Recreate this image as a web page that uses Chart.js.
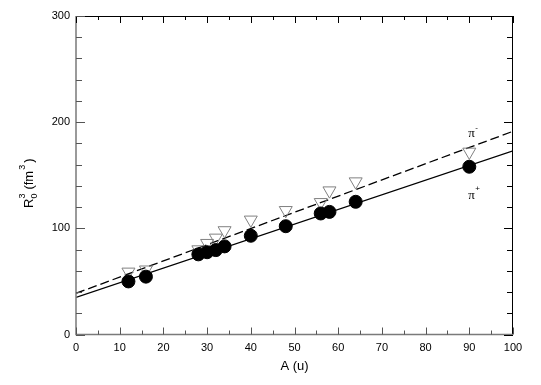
<!DOCTYPE html>
<html>
<head>
<meta charset="utf-8">
<script src="https://cdn.jsdelivr.net/npm/chart.js@4.4.1/dist/chart.umd.min.js"></script>
<style>
  html, body { margin: 0; padding: 0; background: #fff; }
  #wrap { width: 541px; height: 385px; }
</style>
</head>
<body>
<div id="wrap"><canvas id="chart"></canvas></div>
<script>
// --- data ---
const massA   = [12, 16, 28, 30, 32, 34, 40, 48, 56, 58, 64, 90];
const piPlus  = [50, 54.5, 75.5, 77.5, 79.5, 83, 93, 102, 114, 115.5, 125, 158];
const piMinus = [59, 61, 80, 86, 91, 98, 108, 117, 124.5, 135.5, 144, 172];

// fitted lines, endpoints at A = 0 and A = 100
const fitA      = [0, 100];
const fitPlus   = [35, 173];
const fitMinus  = [38.8, 191.4];

const xTicksMajor = [0, 10, 20, 30, 40, 50, 60, 70, 80, 90, 100];
const yTicksMajor = [0, 100, 200, 300];

const toPts = (xs, ys) => xs.map((x, i) => ({ x: x, y: ys[i] }));

// inward ticks on all four sides + frame
const frame = {
    id: 'frame',
    afterDatasetsDraw(chart) {
        const { ctx, chartArea: a, scales: { x, y } } = chart;
        ctx.save();
        ctx.lineWidth = 1;

        // top & right in black, left & bottom in grey
        ctx.strokeStyle = '#000';
        ctx.beginPath();
        ctx.moveTo(a.left, a.top + 0.5); ctx.lineTo(a.right, a.top + 0.5);
        ctx.moveTo(a.right - 0.5, a.top); ctx.lineTo(a.right - 0.5, a.bottom);
        ctx.stroke();
        ctx.strokeStyle = '#7a7a7a';
        ctx.lineWidth = 1.5;
        ctx.beginPath();
        ctx.moveTo(a.left, a.top); ctx.lineTo(a.left, a.bottom);
        ctx.lineTo(a.right, a.bottom);
        ctx.stroke();

        ctx.lineWidth = 1;
        // x ticks every 5, majors every 10
        for (let v = 0; v <= 100; v += 5) {
            const px = Math.round(x.getPixelForValue(v)) + 0.5;
            const len = v % 10 === 0 ? 7 : 4;
            ctx.strokeStyle = '#555';
            ctx.beginPath(); ctx.moveTo(px, a.bottom); ctx.lineTo(px, a.bottom - len); ctx.stroke();
            ctx.strokeStyle = '#000';
            ctx.beginPath(); ctx.moveTo(px, a.top); ctx.lineTo(px, a.top + len); ctx.stroke();
        }
        // y ticks every 20, majors every 100
        for (let v = 0; v <= 300; v += 20) {
            const py = Math.round(y.getPixelForValue(v)) + 0.5;
            const len = v % 100 === 0 ? 9 : 6;
            ctx.strokeStyle = '#555';
            ctx.beginPath(); ctx.moveTo(a.left, py); ctx.lineTo(a.left + len, py); ctx.stroke();
            ctx.strokeStyle = '#000';
            ctx.beginPath(); ctx.moveTo(a.right, py); ctx.lineTo(a.right - len, py); ctx.stroke();
        }

        // series labels
        ctx.fillStyle = '#000';
        ctx.textAlign = 'center';
        ctx.textBaseline = 'middle';
        ctx.font = '13px "Liberation Serif", serif';
        const lx = x.getPixelForValue(90.5);
        ctx.fillText('π', lx, y.getPixelForValue(189));
        ctx.fillText('π', lx, y.getPixelForValue(131));
        ctx.font = '8px "Liberation Sans", Arial, sans-serif';
        ctx.fillText('-', lx + 5, y.getPixelForValue(195));
        ctx.fillText('+', lx + 6, y.getPixelForValue(137.5));

        // y title: R0^3 (fm^3), rotated
        ctx.translate(28, 175);
        ctx.rotate(-Math.PI / 2);
        ctx.textAlign = 'left';
        ctx.textBaseline = 'alphabetic';
        let cx = -33;
        ctx.font = '13px "Liberation Sans", Arial, sans-serif';
        ctx.fillText('R', cx, 5);
        cx += ctx.measureText('R').width;
        ctx.font = '9px "Liberation Sans", Arial, sans-serif';
        ctx.fillText('0', cx, 9);
        ctx.fillText('3', cx, -3);
        cx += ctx.measureText('0').width + 4;
        ctx.font = '13px "Liberation Sans", Arial, sans-serif';
        ctx.fillText('(fm', cx, 5);
        cx += ctx.measureText('(fm').width;
        ctx.font = '9px "Liberation Sans", Arial, sans-serif';
        ctx.fillText('3', cx + 1, -3);
        cx += ctx.measureText('3').width + 3;
        ctx.font = '13px "Liberation Sans", Arial, sans-serif';
        ctx.fillText(')', cx, 5);
        ctx.restore();
    }
};

new Chart(document.getElementById('chart').getContext('2d'), {
    type: 'scatter',
    data: {
        datasets: [{
            label: 'fit pi-',
            type: 'line',
            data: toPts(fitA, fitMinus),
            borderColor: '#000',
            borderWidth: 1.3,
            borderDash: [9, 4],
            pointRadius: 0,
            fill: false,
            order: 3
        }, {
            label: 'fit pi+',
            type: 'line',
            data: toPts(fitA, fitPlus),
            borderColor: '#000',
            borderWidth: 1.3,
            pointRadius: 0,
            fill: false,
            order: 3
        }, {
            label: 'pi-',
            data: toPts(massA, piMinus),
            pointStyle: 'triangle',
            rotation: 180,
            radius: 7.5,
            borderColor: '#808080',
            borderWidth: 1,
            backgroundColor: 'rgba(255,255,255,0)',
            order: 2
        }, {
            label: 'pi+',
            data: toPts(massA, piPlus),
            pointStyle: 'circle',
            radius: 6.5,
            borderColor: '#000',
            borderWidth: 1,
            backgroundColor: '#000',
            order: 1
        }]
    },
    options: {
        responsive: true,
        maintainAspectRatio: false,
        animation: false,
        layout: { padding: { top: 16, right: 28, left: 0, bottom: 0 } },
        plugins: { legend: { display: false }, tooltip: { enabled: false } },
        scales: {
            x: {
                type: 'linear',
                min: 0, max: 100,
                afterFit(s) { s.height = 50.5; },
                afterBuildTicks(s) { s.ticks = xTicksMajor.map(v => ({ value: v })); },
                grid: { display: false, drawTicks: false },
                border: { display: false },
                ticks: {
                    padding: 7,
                    color: '#000',
                    font: { family: '"Liberation Sans", Arial, sans-serif', size: 11 }
                },
                title: {
                    display: true,
                    text: 'A (u)',
                    color: '#000',
                    padding: { top: 0, bottom: 11 },
                    font: { family: '"Liberation Sans", Arial, sans-serif', size: 13 }
                }
            },
            y: {
                type: 'linear',
                min: 0, max: 300,
                afterFit(s) { s.width = 76; },
                afterBuildTicks(s) { s.ticks = yTicksMajor.map(v => ({ value: v })); },
                grid: { display: false, drawTicks: false },
                border: { display: false },
                ticks: {
                    padding: 6,
                    color: '#000',
                    font: { family: '"Liberation Sans", Arial, sans-serif', size: 11 }
                }
            }
        }
    },
    plugins: [frame]
});
</script>
</body>
</html>
